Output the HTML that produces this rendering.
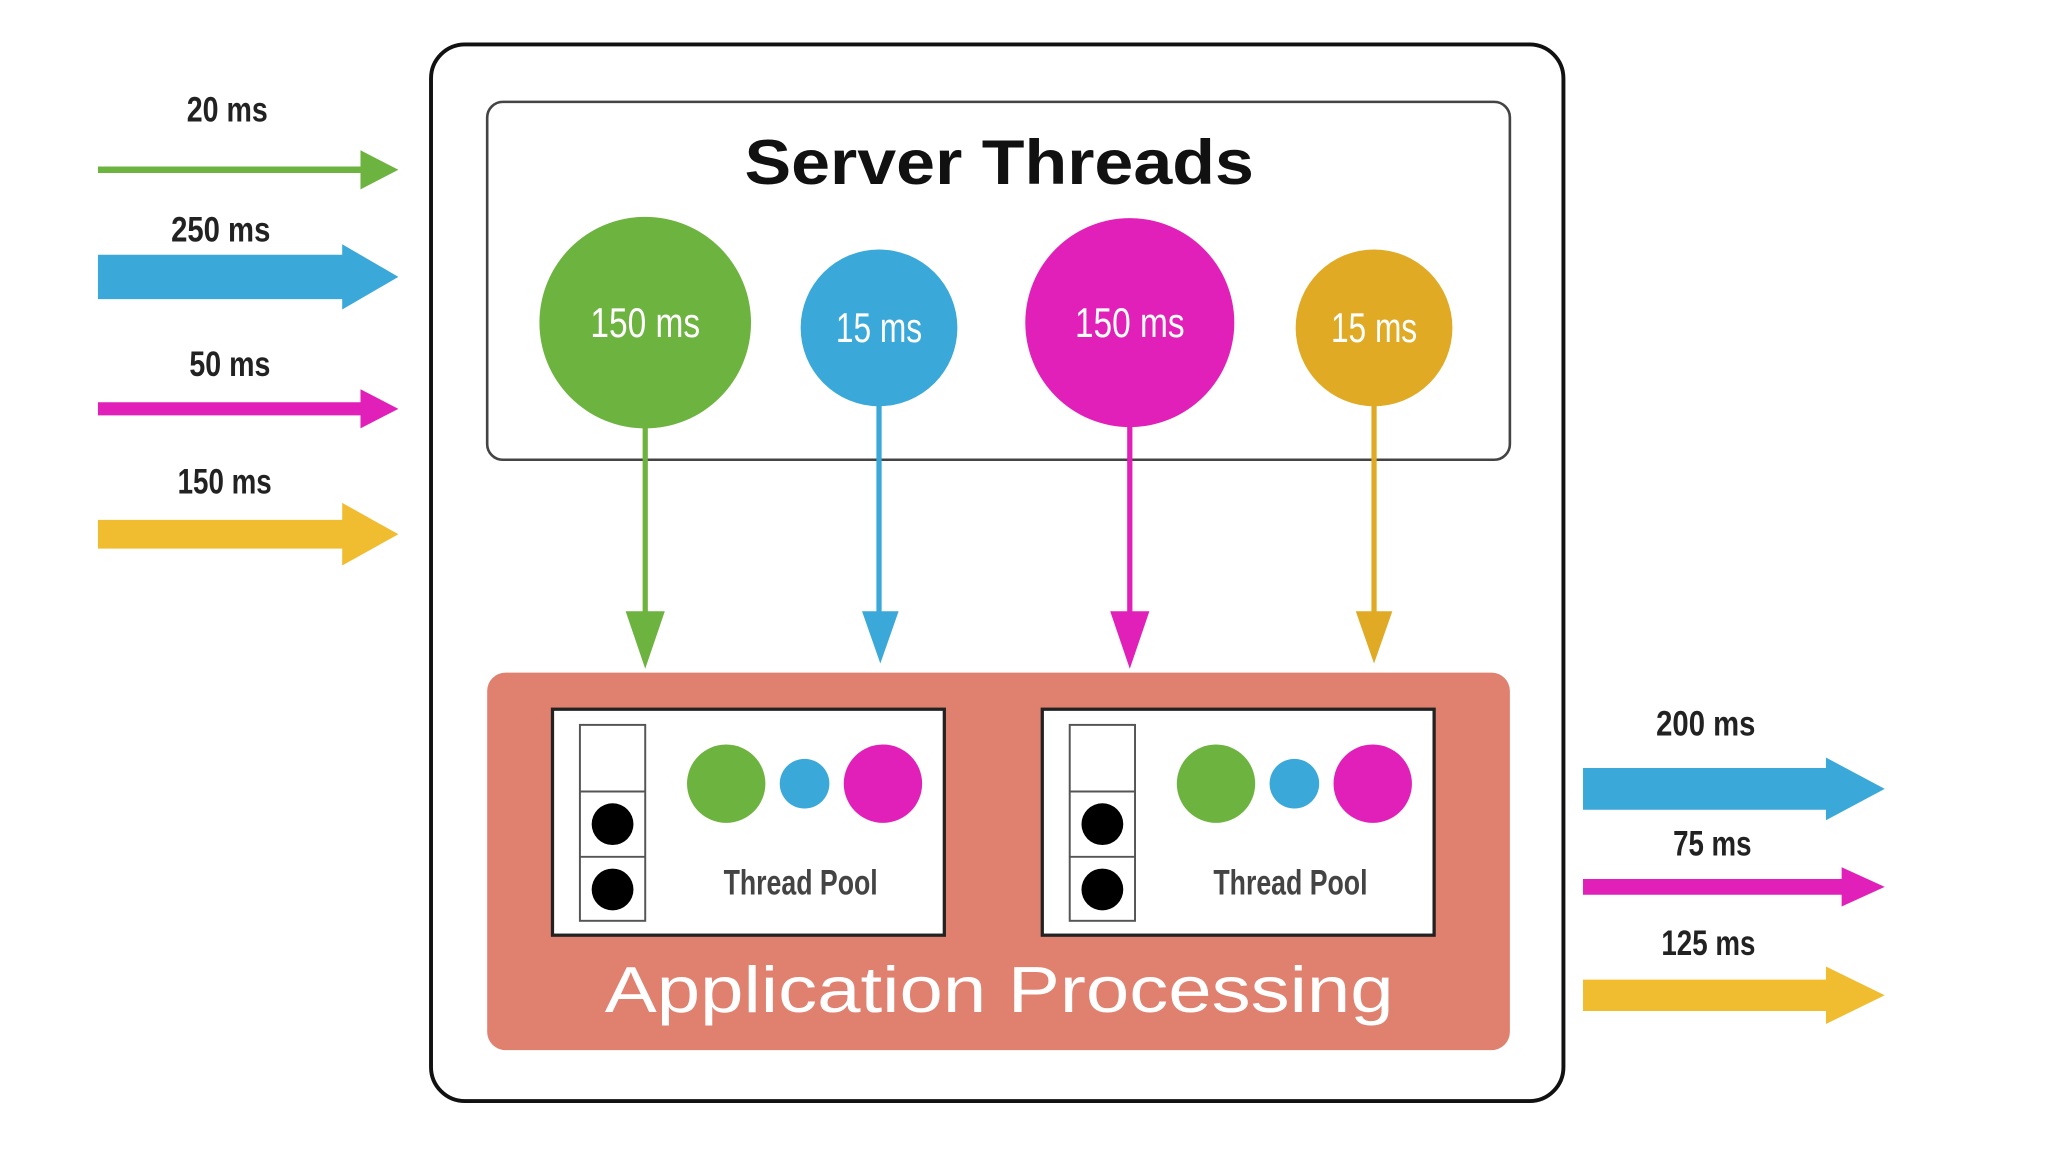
<!DOCTYPE html>
<html><head><meta charset="utf-8"><style>html,body{margin:0;padding:0;background:#fff}svg{display:block}</style></head>
<body>
<svg width="2048" height="1152" viewBox="0 0 1568 882" preserveAspectRatio="none" xmlns="http://www.w3.org/2000/svg" font-family="Liberation Sans, sans-serif">
<rect width="1568" height="882" fill="#fff"/>
<g font-size="27" fill="#222" text-anchor="middle" font-weight="bold">
<text x="174" y="93" textLength="62" lengthAdjust="spacingAndGlyphs">20 ms</text>
<text x="169" y="185" textLength="76" lengthAdjust="spacingAndGlyphs">250 ms</text>
<text x="176" y="288" textLength="62" lengthAdjust="spacingAndGlyphs">50 ms</text>
<text x="172" y="378" textLength="72" lengthAdjust="spacingAndGlyphs">150 ms</text>
<text x="1306" y="563" textLength="76" lengthAdjust="spacingAndGlyphs">200 ms</text>
<text x="1311" y="655" textLength="60" lengthAdjust="spacingAndGlyphs">75 ms</text>
<text x="1308" y="731" textLength="72" lengthAdjust="spacingAndGlyphs">125 ms</text>
</g>
<polygon points="75,127.5 276,127.5 276,115 305,130 276,145 276,132.5 75,132.5" fill="#6DB33F"/>
<polygon points="75,195 262,195 262,187 305,212 262,237 262,229 75,229" fill="#3AA8D8"/>
<polygon points="75,308 276,308 276,298 305,313 276,328 276,318 75,318" fill="#E020B8"/>
<polygon points="75,398 262,398 262,385 305,409 262,433 262,420 75,420" fill="#F0BD30"/>
<polygon points="1212,588 1398,588 1398,580 1443,604 1398,628 1398,620 1212,620" fill="#3AA8D8"/>
<polygon points="1212,673 1410,673 1410,664 1443,679 1410,694 1410,685 1212,685" fill="#E020B8"/>
<polygon points="1212,750 1398,750 1398,740 1443,762 1398,784 1398,774 1212,774" fill="#F0BD30"/>
<rect x="330" y="34" width="867" height="809" rx="26" fill="#fff" stroke="#111" stroke-width="3"/>
<rect x="373" y="78" width="783" height="274" rx="12" fill="#fff" stroke="#444" stroke-width="2"/>
<text x="765" y="141" font-size="48" font-weight="bold" text-anchor="middle" fill="#111" textLength="390" lengthAdjust="spacingAndGlyphs">Server Threads</text>
<g stroke-width="4">
<line x1="494" y1="320" x2="494" y2="475" stroke="#6DB33F"/>
<line x1="673" y1="305" x2="673" y2="475" stroke="#3AA8D8"/>
<line x1="865" y1="320" x2="865" y2="475" stroke="#E020B8"/>
<line x1="1052" y1="305" x2="1052" y2="475" stroke="#E0AA25"/>
</g>
<polygon points="479,468 509,468 494,512" fill="#6DB33F"/>
<polygon points="660,468 688,468 674,508" fill="#3AA8D8"/>
<polygon points="850,468 880,468 865,512" fill="#E020B8"/>
<polygon points="1038,468 1066,468 1052,508" fill="#E0AA25"/>
<circle cx="494" cy="247" r="81" fill="#6DB33F"/>
<circle cx="673" cy="251" r="60" fill="#3AA8D8"/>
<circle cx="865" cy="247" r="80" fill="#E020B8"/>
<circle cx="1052" cy="251" r="60" fill="#E0AA25"/>
<g font-size="32" fill="#fff" text-anchor="middle">
<text x="494" y="258" textLength="84" lengthAdjust="spacingAndGlyphs">150 ms</text>
<text x="673" y="262" textLength="66" lengthAdjust="spacingAndGlyphs">15 ms</text>
<text x="865" y="258" textLength="84" lengthAdjust="spacingAndGlyphs">150 ms</text>
<text x="1052" y="262" textLength="66" lengthAdjust="spacingAndGlyphs">15 ms</text>
</g>
<rect x="373" y="515" width="783" height="289" rx="14" fill="#E0806F"/>
<text x="765" y="775" font-size="50" fill="#fff" text-anchor="middle" textLength="604" lengthAdjust="spacingAndGlyphs">Application Processing</text>
<g id="tp">
<rect x="423" y="543" width="300" height="173" fill="#fff" stroke="#222" stroke-width="2.5"/>
<rect x="444" y="555" width="50" height="150" fill="#fff" stroke="#555" stroke-width="1.5"/>
<line x1="444" y1="606" x2="494" y2="606" stroke="#555" stroke-width="1.5"/>
<line x1="444" y1="656" x2="494" y2="656" stroke="#555" stroke-width="1.5"/>
<circle cx="469" cy="631" r="16" fill="#000"/>
<circle cx="469" cy="681" r="16" fill="#000"/>
<circle cx="556" cy="600" r="30" fill="#6DB33F"/>
<circle cx="616" cy="600" r="19" fill="#3AA8D8"/>
<circle cx="676" cy="600" r="30" fill="#E020B8"/>
<text x="613" y="685" font-size="27" fill="#444" font-weight="bold" text-anchor="middle" textLength="118" lengthAdjust="spacingAndGlyphs">Thread Pool</text>
</g>
<use href="#tp" x="375"/>
</svg>
</body></html>
